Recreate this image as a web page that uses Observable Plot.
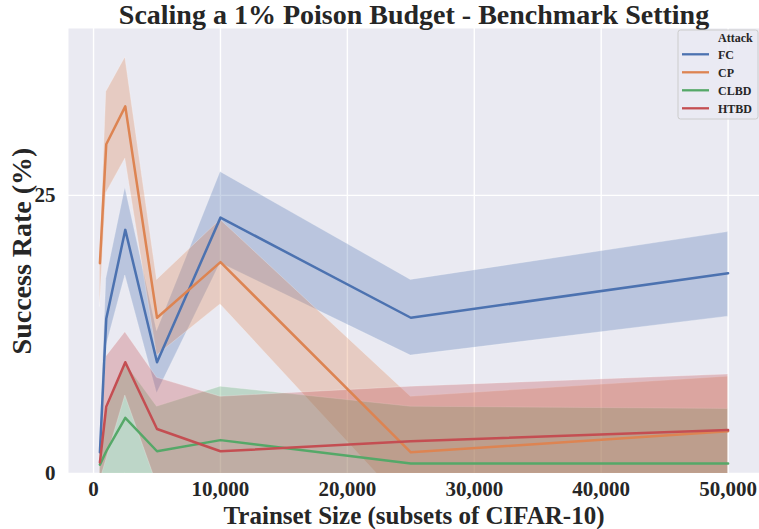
<!DOCTYPE html>
<html>
<head>
<meta charset="utf-8">
<script src="https://cdn.jsdelivr.net/npm/d3@7"></script>
<script src="https://cdn.jsdelivr.net/npm/@observablehq/plot@0.6"></script>
<style>
  body { margin: 0; background: #ffffff; }
  #wrap { width: 759px; height: 529px; }
</style>
</head>
<body>
<div id="wrap"></div>
<script>
// ---- data ----
const sizes   = [500, 1000, 2500, 5000, 10000, 25000, 50000];
const attacks = ["FC", "CP", "CLBD", "HTBD"];

const fcMean   = [1.9, 13.9, 21.9, 10.0, 23.0, 14.0, 18.0];
const fcLow    = [1.0, 11.4, 17.8,  7.2, 18.9, 10.6, 14.1];
const fcHigh   = [2.8, 17.5, 25.7, 12.8, 27.1, 17.4, 21.7];

const cpMean   = [18.9, 29.6, 33.0, 14.0, 19.0,  1.9,  3.8];
const cpLow    = [15.0, 25.2, 28.3, 10.6, 15.2, -3.3, -1.2];
const cpHigh   = [19.3, 34.3, 37.4, 17.4, 22.8,  6.9,  8.7];

const clbdMean = [0.8,  2.0, 5.0,  2.0,  3.0,  0.9,  0.9];
const clbdLow  = [-0.5, -1.5, 0.0, -2.0, -1.8, -4.2, -4.0];
const clbdHigh = [1.8,  5.5, 9.9,  6.0,  7.8,  6.0,  5.8];

const htbdMean = [1.0, 6.0, 10.0, 4.0,  2.0,  2.9,  3.9];
const htbdLow  = [-0.7, 1.2, 7.0, -1.0, -2.9, -2.0, -1.1];
const htbdHigh = [2.7, 10.5, 12.7, 8.6,  6.9,  7.8,  8.9];

const xTicks = [0, 10000, 20000, 30000, 40000, 50000];
const yTicks = [0, 25];

const titleText = "Scaling a 1% Poison Budget - Benchmark Setting";
const xLabel = "Trainset Size (subsets of CIFAR-10)";
const yLabel = "Success Rate (%)";
const legendTitle = "Attack";

// ---- styles ----
const colors = ["#4c72b0", "#dd8452", "#55a868", "#c44e52"];
const font = "'Liberation Serif', 'Times New Roman', serif";
const ink = "#262626";

const means = [fcMean, cpMean, clbdMean, htbdMean];
const lows  = [fcLow, cpLow, clbdLow, htbdLow];
const highs = [fcHigh, cpHigh, clbdHigh, htbdHigh];
const rows = attacks.flatMap((a, i) => sizes.map((s, j) => ({
  attack: a, size: s, mean: means[i][j], low: lows[i][j], high: highs[i][j]
})));

const W = 759, H = 529, mL = 68, mR = 0, mT = 28, mB = 56;

const plot = Plot.plot({
  width: W, height: H,
  marginLeft: mL, marginRight: mR, marginTop: mT, marginBottom: mB,
  style: { fontFamily: font, fontWeight: "bold", color: ink, background: "#ffffff", overflow: "visible" },
  x: { domain: [-1975, 52475] },
  y: { domain: [0, 40] },
  color: { domain: attacks, range: colors },
  marks: [
    Plot.frame({ fill: "#eaeaf2", stroke: null }),
    Plot.gridX(xTicks, { stroke: "#ffffff", strokeOpacity: 1, strokeWidth: 1.4 }),
    Plot.gridY(yTicks, { stroke: "#ffffff", strokeOpacity: 1, strokeWidth: 1.4 }),
    Plot.areaY(rows, {
      x: "size", y1: "low", y2: "high", z: "attack", fill: "attack",
      fillOpacity: 0.3, stroke: "#ffffff", strokeOpacity: 0.3, strokeWidth: 0.8, clip: true
    }),
    Plot.lineY(rows, { x: "size", y: "mean", z: "attack", stroke: "attack", strokeWidth: 2.5 }),
    Plot.axisX(xTicks, {
      tickSize: 0, tickPadding: 8, tickFormat: d3.format(","), label: null,
      fontSize: 21, fontWeight: "bold", fill: ink
    }),
    Plot.axisY(yTicks, {
      tickSize: 0, tickPadding: 13, label: null,
      fontSize: 21, fontWeight: "bold", fill: ink
    }),
    Plot.text([titleText], {
      frameAnchor: "top", dy: -13, lineAnchor: "middle", textAnchor: "middle",
      fontSize: 28, fontWeight: "bold", fill: ink
    }),
    Plot.text([xLabel], {
      frameAnchor: "bottom", dy: 42, lineAnchor: "middle", textAnchor: "middle",
      fontSize: 25, fontWeight: "bold", fill: ink
    }),
    Plot.text([yLabel], {
      frameAnchor: "left", dx: -46, rotate: -90, lineAnchor: "middle", textAnchor: "middle",
      fontSize: 28, fontWeight: "bold", fill: ink
    })
  ]
});

// ---- legend (inside the SVG, top right) ----
const svg = d3.select(plot);
const lg = svg.append("g")
  .attr("font-family", font).attr("font-weight", "bold").attr("font-size", 12)
  .attr("text-anchor", "start");
lg.append("rect")
  .attr("x", 678).attr("y", 30).attr("width", 80).attr("height", 89)
  .attr("rx", 2.5).attr("fill", "#eaeaf2").attr("fill-opacity", 0.8)
  .attr("stroke", "#cccccc").attr("stroke-width", 1);
lg.append("text").attr("x", 718).attr("y", 37.5).attr("dy", "0.35em")
  .attr("text-anchor", "start").attr("fill", ink).text(legendTitle);
attacks.forEach((a, i) => {
  const yy = 54.3 + i * 18;
  lg.append("line").attr("x1", 682).attr("x2", 709).attr("y1", yy).attr("y2", yy)
    .attr("stroke", colors[i]).attr("stroke-width", 2.3);
  lg.append("text").attr("x", 718).attr("y", yy).attr("dy", "0.35em")
    .attr("text-anchor", "start").attr("fill", ink).text(a);
});

document.getElementById("wrap").appendChild(plot);
</script>
</body>
</html>
